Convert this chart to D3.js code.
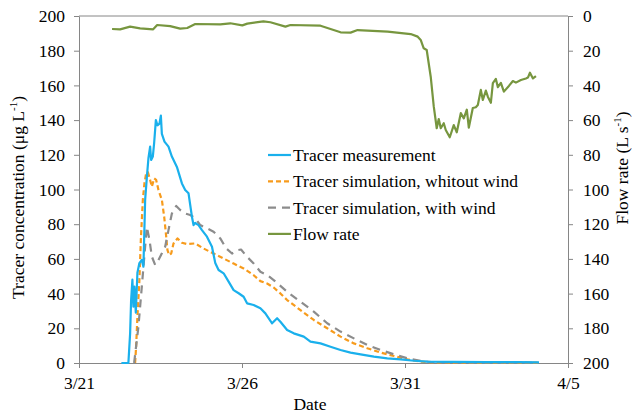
<!DOCTYPE html>
<html>
<head>
<meta charset="utf-8">
<script src="https://cdn.jsdelivr.net/npm/d3@7"></script>
<style>
  body { margin: 0; background: #fff; }
  text { font-family: "Liberation Serif", "Times New Roman", serif; fill: #000; }
  .axis path, .axis line { stroke: #868686; }
</style>
</head>
<body>
<div id="chart"></div>
<script>
// days after 3/21 and values
const measDays = [1.3, 1.515, 1.568, 1.598, 1.638, 1.669, 1.700, 1.743, 1.792, 1.853, 1.927, 1.976, 2.029, 2.081, 2.130, 2.182, 2.213, 2.265, 2.305, 2.358, 2.407, 2.468, 2.511, 2.542, 2.622, 2.745, 2.849, 3.003, 3.157, 3.258, 3.360, 3.464, 3.513, 3.566, 3.667, 3.772, 3.925, 4.079, 4.180, 4.282, 4.436, 4.589, 4.743, 4.897, 5.050, 5.155, 5.358, 5.564, 5.717, 5.923, 6.077, 6.178, 6.384, 6.587, 6.895, 7.100, 7.408, 7.715, 8.022, 8.330, 8.637, 9.046, 9.458, 9.867, 10.276, 10.688, 11.5, 12.5, 13.5, 14.11];
const measValues = [0, 0, 17, 36, 48, 32.5, 44, 29, 52, 57.6, 59.4, 55.5, 94, 107, 118, 124.7, 117, 119, 126.8, 140, 137, 138, 142.6, 132, 127.6, 124.7, 119, 113, 103.5, 99.7, 97.8, 84.3, 79.5, 80.7, 79.5, 76.6, 72.8, 67, 57.6, 53.6, 51.7, 46.9, 42, 40.2, 38.2, 34.4, 33.4, 31.5, 28.6, 22.9, 25.8, 23.8, 19, 17.1, 15.2, 12.3, 11.3, 9.4, 7.5, 6, 5, 3.7, 2.7, 2.1, 1.3, 0.8, 0.6, 0.5, 0.5, 0.4];

const noWindDays = [1.721, 1.752, 1.792, 1.853, 1.897, 1.958, 2.007, 2.059, 2.112, 2.182, 2.235, 2.305, 2.367, 2.438, 2.542, 2.613, 2.665, 2.714, 2.766, 2.828, 2.899, 3.022, 3.157, 3.311, 3.566, 3.821, 4.128, 4.436, 4.743, 5.050, 5.358, 5.564, 5.770, 5.972, 6.178, 6.384, 6.793, 7.202, 7.614, 8.022, 8.432, 8.843, 9.252, 9.661, 10.073, 10.482, 10.891, 12.0, 14.1];
const noWindValues = [0, 9.4, 26.7, 47.8, 71, 94, 103.5, 109.3, 110, 105.5, 101.6, 106.4, 105.5, 99.7, 94, 84.3, 74.7, 65, 62.2, 63.1, 68.9, 71.8, 69.3, 68.6, 68.9, 66, 63.1, 60.2, 57.3, 54.5, 50.6, 47.2, 45.8, 43.5, 40.1, 36.3, 30.5, 24.8, 20, 15.2, 11.3, 8.5, 6, 4, 2.1, 0.8, 0.3, 0.2, 0.2];

const windDays = [1.691, 1.823, 1.927, 2.029, 2.081, 2.161, 2.235, 2.336, 2.438, 2.542, 2.643, 2.745, 2.849, 2.982, 3.105, 3.258, 3.412, 3.566, 3.719, 3.925, 4.128, 4.334, 4.518, 4.694, 4.848, 4.970, 5.155, 5.358, 5.564, 5.770, 5.972, 6.178, 6.384, 6.793, 7.202, 7.614, 8.022, 8.432, 8.843, 9.252, 9.661, 10.073, 10.482, 10.891, 12.0, 14.1];
const windValues = [0, 21, 44, 67, 78.5, 71, 61.3, 56.5, 59.4, 63.2, 67, 76.6, 86.2, 90.5, 88.2, 86.2, 85.3, 83.4, 79.5, 77.6, 75.7, 71.8, 66, 63.1, 65, 65.4, 61.2, 57.4, 52.6, 50.7, 47.8, 44.5, 41.1, 35.3, 29.6, 22.9, 18.1, 14.2, 10.4, 7.5, 5, 2.7, 1.2, 0.4, 0.3, 0.3];

const flowDays = [1.014, 1.260, 1.568, 1.875, 2.275, 2.398, 2.797, 3.105, 3.320, 3.566, 4.334, 4.641, 5.010, 5.164, 5.656, 5.871, 6.332, 6.486, 7.408, 8.023, 8.330, 8.545, 9.468, 10.174, 10.390, 10.482, 10.574, 10.666, 10.789, 10.881, 10.973, 11.035, 11.097, 11.189, 11.250, 11.373, 11.496, 11.588, 11.711, 11.804, 11.896, 11.957, 12.080, 12.172, 12.234, 12.326, 12.388, 12.480, 12.541, 12.634, 12.695, 12.787, 12.849, 12.941, 13.033, 13.187, 13.310, 13.402, 13.556, 13.709, 13.771, 13.833, 13.925, 14.017];
const flowValues = [7.5, 7.7, 6.1, 7.1, 7.7, 5.2, 5.8, 7.3, 6.9, 4.6, 4.8, 4.2, 5.4, 4.4, 3.1, 3.6, 6.1, 5.2, 5.6, 9.4, 9.6, 8.1, 9.0, 10.4, 11.9, 13.8, 18.6, 19.6, 35, 52, 64.7, 59.4, 64.7, 61.8, 65.7, 69.9, 62.9, 67, 56, 59, 54, 64.4, 53, 52.6, 51.3, 42.6, 48.4, 43, 46.5, 50, 38.7, 36.3, 41, 38.5, 43.6, 40.3, 37.5, 38.4, 36.9, 36, 35.5, 32.7, 36, 34.6];

const xTickDays = [0, 5, 10, 15];
const xTickLabels = ["3/21", "3/26", "3/31", "4/5"];
const yTicks = [0, 20, 40, 60, 80, 100, 120, 140, 160, 180, 200];

const seriesNames = ["Tracer measurement", "Tracer simulation, whitout wind", "Tracer simulation, with wind", "Flow rate"];

const W = 635, H = 414;
const margin = {top: 16, right: 67, bottom: 51, left: 79};
const width = W - margin.left - margin.right,
    height = H - margin.top - margin.bottom;
const fs = 17.5;

const base = new Date(2013, 2, 21);
const toDate = d => new Date(base.getTime() + d * 86400000);

const x = d3.scaleTime()
    .domain([toDate(0), toDate(15)])
    .range([0, width]);
const yLeft = d3.scaleLinear().domain([0, 200]).range([height, 0]);
const yRight = d3.scaleLinear().domain([0, 200]).range([0, height]);

const svg = d3.select('#chart')
    .append('svg')
    .attr('width', W)
    .attr('height', H);

const g = svg.append('g')
    .attr('transform', 'translate(' + margin.left + ',' + margin.top + ')');

// top frame line
g.append('line')
    .attr('x1', 0).attr('x2', width)
    .attr('y1', 0).attr('y2', 0)
    .attr('stroke', '#868686');

g.append('g')
    .attr('class', 'axis')
    .attr('transform', 'translate(0,' + height + ')')
    .call(d3.axisBottom(x)
        .tickValues(xTickDays.map(toDate))
        .tickFormat((d, i) => xTickLabels[i])
        .tickSize(5)
        .tickSizeOuter(0)
        .tickPadding(9));

g.append('g')
    .attr('class', 'axis')
    .call(d3.axisLeft(yLeft)
        .tickValues(yTicks)
        .tickSize(5)
        .tickSizeOuter(0)
        .tickPadding(9));

g.append('g')
    .attr('class', 'axis')
    .attr('transform', 'translate(' + width + ',0)')
    .call(d3.axisRight(yRight)
        .tickValues(yTicks)
        .tickSize(5)
        .tickSizeOuter(0)
        .tickPadding(10));

svg.selectAll('.axis text')
    .attr('font-size', fs)
    .style('font-family', '"Liberation Serif", serif')
    .attr('fill', '#000');

const lineL = d3.line()
    .x(d => x(toDate(d[0])))
    .y(d => yLeft(d[1]));
const lineR = d3.line()
    .x(d => x(toDate(d[0])))
    .y(d => yRight(d[1]));

const series = [
    {days: noWindDays, vals: noWindValues, color: '#F79B1C', dash: '5,3', gen: lineL},
    {days: windDays, vals: windValues, color: '#8C8C8C', dash: '8,6', gen: lineL},
    {days: measDays, vals: measValues, color: '#1AB0EC', dash: null, gen: lineL},
    {days: flowDays, vals: flowValues, color: '#77963F', dash: null, gen: lineR}
];

series.forEach(s => {
    g.append('path')
        .datum(s.days.map((d, i) => [d, s.vals[i]]))
        .attr('d', s.gen)
        .attr('fill', 'none')
        .attr('stroke', s.color)
        .attr('stroke-width', 2.2)
        .attr('stroke-linejoin', 'round')
        .attr('stroke-dasharray', s.dash);
});

// legend
const legendColors = ['#1AB0EC', '#F79B1C', '#8C8C8C', '#77963F'];
const legendDash = [null, '5,3', '8,6', null];
const legend = svg.append('g').attr('transform', 'translate(268,155)');
seriesNames.forEach((name, i) => {
    const row = legend.append('g').attr('transform', 'translate(0,' + (i * 26.3) + ')');
    row.append('line')
        .attr('x1', 0).attr('x2', 23)
        .attr('y1', 0).attr('y2', 0)
        .attr('stroke', legendColors[i])
        .attr('stroke-width', 2.2)
        .attr('stroke-dasharray', legendDash[i]);
    row.append('text')
        .attr('x', 25)
        .attr('y', 6)
        .attr('font-size', fs)
        .text(name);
});

// axis titles
const lt = svg.append('text')
    .attr('transform', 'translate(24,' + (margin.top + height / 2 + 8) + ') rotate(-90)')
    .attr('text-anchor', 'middle')
    .attr('font-size', fs);
lt.append('tspan').text('Tracer concentration (μg L');
lt.append('tspan').attr('font-size', 11).attr('dy', -7).text('-1');
lt.append('tspan').attr('dy', 7).text(')');

const rt = svg.append('text')
    .attr('transform', 'translate(628,' + (margin.top + 152) + ') rotate(-90)')
    .attr('text-anchor', 'middle')
    .attr('font-size', fs);
rt.append('tspan').text('Flow rate (L s');
rt.append('tspan').attr('font-size', 11).attr('dy', -7).text('-1');
rt.append('tspan').attr('dy', 7).text(')');

svg.append('text')
    .attr('x', 310)
    .attr('y', 410)
    .attr('text-anchor', 'middle')
    .attr('font-size', fs)
    .text('Date');
</script>
</body>
</html>
